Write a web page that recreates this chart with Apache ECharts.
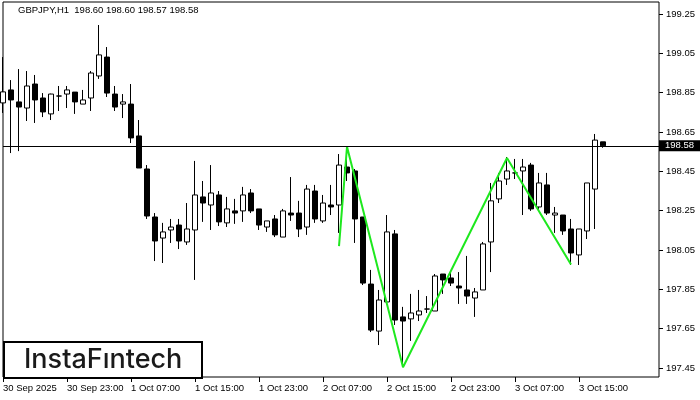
<!DOCTYPE html>
<html>
<head>
<meta charset="utf-8">
<script src="https://cdn.jsdelivr.net/npm/echarts@6/dist/echarts.min.js"></script>
<style>html,body{margin:0;padding:0;background:#fff}#c{width:700px;height:400px}</style>
</head>
<body>
<div id="c"></div>
<script>
// ---- data (GBPJPY, H1) ----
const symbolTitle = 'GBPJPY,H1  198.60 198.60 198.57 198.58';
const days = ['30 Sep', '1 Oct', '2 Oct', '3 Oct', '4 Oct'];
const firstLabel = '30 Sep 2025';
const slotCount = 83; // 76 bars + empty right margin
const opens = [198.798,198.864,198.803,198.772,198.894,198.823,198.742,198.833,198.843,198.853,
  198.792,198.823,198.935,199.031,198.843,198.792,198.792,198.630,198.462,198.218,
  198.111,198.152,198.177,198.091,198.152,198.320,198.279,198.330,198.188,198.249,
  198.249,198.340,198.259,198.167,198.208,198.116,198.238,198.238,198.167,198.350,
  198.198,198.279,198.279,198.472,198.452,198.218,197.877,197.638,197.786,198.132,
  197.710,197.700,197.720,197.750,197.740,197.928,197.908,197.867,197.847,197.806,
  197.847,198.091,198.310,198.411,198.442,198.452,198.482,198.269,198.381,198.228,
  198.228,198.157,198.025,198.147,198.360,198.600];
const closes = [198.854,198.813,198.777,198.884,198.813,198.752,198.843,198.833,198.864,198.803,
  198.813,198.950,199.042,198.848,198.777,198.803,198.620,198.467,198.223,198.096,
  198.142,198.167,198.096,198.157,198.330,198.289,198.340,198.193,198.259,198.238,
  198.330,198.249,198.177,198.198,198.127,198.249,198.228,198.157,198.360,198.208,
  198.289,198.269,198.482,198.442,198.208,197.882,197.643,197.796,198.142,197.694,
  197.689,197.730,197.740,197.750,197.918,197.898,197.882,197.857,197.816,197.837,
  198.081,198.300,198.401,198.452,198.442,198.472,198.259,198.391,198.238,198.238,
  198.147,198.035,198.157,198.391,198.609,198.580];
const highs = [199.031,198.914,198.970,198.960,198.940,198.848,198.845,198.884,198.884,198.853,
  198.864,198.960,199.194,199.082,198.884,198.843,198.894,198.711,198.482,198.238,
  198.188,198.208,198.208,198.289,198.503,198.401,198.482,198.350,198.320,198.310,
  198.371,198.360,198.259,198.198,198.228,198.259,198.421,198.300,198.381,198.381,
  198.330,198.381,198.538,198.523,198.462,198.218,197.949,197.847,198.228,198.152,
  197.761,197.827,197.847,197.816,197.928,197.928,197.938,197.938,198.020,197.857,
  198.091,198.391,198.442,198.523,198.513,198.513,198.493,198.442,198.442,198.269,
  198.228,198.208,198.157,198.391,198.640,198.600];
const lows = [198.747,198.543,198.553,198.706,198.696,198.726,198.711,198.757,198.772,198.742,
  198.792,198.757,198.920,198.828,198.757,198.721,198.594,198.467,198.208,197.994,
  197.984,198.086,198.055,198.076,197.898,198.193,198.152,198.172,198.167,198.183,
  198.193,198.238,198.152,198.142,198.116,198.116,198.198,198.116,198.127,198.188,
  198.188,198.228,198.137,198.401,198.086,197.872,197.633,197.567,197.786,197.669,
  197.455,197.588,197.689,197.730,197.740,197.827,197.867,197.776,197.776,197.710,
  197.847,197.938,198.289,198.381,198.411,198.228,198.249,198.249,198.228,198.137,
  198.127,197.974,197.974,198.106,198.157,198.570];
const patternIdx = [42, 43, 50, 63, 71];
const patternVal = [198.070, 198.575, 197.454, 198.518, 197.977];
const currentPrice = 198.58;
const yTicks = [197.45, 197.65, 197.85, 198.05, 198.25, 198.45, 198.65, 198.85, 199.05, 199.25];
const yMin = 197.4045, yMax = 199.311;
const labelStep = 8, lastLabelIdx = 72;
const logoText = 'InstaF\u0131ntech';

// ---- build ----
const categories = [];
(function () {
  let d = 0, h = 15;
  for (let i = 0; i < slotCount; i++) {
    categories.push(days[d] + ' ' + (h < 10 ? '0' : '') + h + ':00');
    h++; if (h === 24) { h = 0; d++; }
  }
})();
const candleData = opens.map((o, i) => [o, closes[i], lows[i], highs[i]]);
const patternData = patternIdx.map((x, i) => [x, patternVal[i]]);
const showIdx = (idx) => idx % labelStep === 0 && idx <= lastLabelIdx;

const chart = echarts.init(document.getElementById('c'), null, { renderer: 'canvas' });
chart.setOption({
  animation: false,
  backgroundColor: '#fff',
  textStyle: { fontFamily: 'Liberation Sans' },
  grid: { left: 2, right: 41, top: 2, bottom: 23, show: true, borderColor: '#000', borderWidth: 1, backgroundColor: '#fff' },
  xAxis: {
    type: 'category', data: categories, boundaryGap: false,
    axisLine: { show: false },
    axisTick: { show: true, interval: showIdx, length: 5, lineStyle: { color: '#000' } },
    axisLabel: {
      interval: showIdx, align: 'left', margin: 6, color: '#000', fontSize: 9.5,
      fontFamily: 'Liberation Sans',
      formatter: (v, idx) => idx === 0 ? firstLabel : v
    },
    splitLine: { show: false }
  },
  yAxis: {
    type: 'value', position: 'right', min: yMin, max: yMax, scale: true,
    axisLine: { show: false },
    splitLine: { show: false },
    axisTick: { show: true, length: 4, customValues: yTicks, lineStyle: { color: '#000' } },
    axisLabel: { customValues: yTicks, margin: 7, color: '#000', fontSize: 9.5, fontFamily: 'Liberation Sans',
      formatter: (v) => v.toFixed(2) }
  },
  series: [
    {
      type: 'candlestick', data: candleData, barWidth: 5, clip: true,
      itemStyle: { color: '#fff', color0: '#000', borderColor: '#000', borderColor0: '#000', borderColorDoji: '#000', borderWidth: 1 },
      emphasis: { disabled: true },
      markLine: {
        silent: true, symbol: ['none', 'none'], animation: false,
        lineStyle: { color: '#000', width: 1, type: 'solid' },
        label: { show: true, position: 'end', distance: 0, formatter: currentPrice.toFixed(2),
          color: '#fff', backgroundColor: '#000', fontSize: 9.5, fontFamily: 'Liberation Sans',
          padding: [1, 8, 0, 6], lineHeight: 10 },
        emphasis: { disabled: true },
        data: [{ yAxis: currentPrice }]
      },
      z: 2
    },
    {
      type: 'line', data: patternData, symbol: 'none', connectNulls: true,
      lineStyle: { color: '#1ee81e', width: 2 }, z: 3, emphasis: { disabled: true }
    }
  ],
  graphic: [
    { type: 'text', left: 18, top: 5, z: 10,
      style: { text: symbolTitle, fill: '#000', font: '9.5px "Liberation Sans"' } },
    { type: 'group', left: 3, top: 341, z: 20, children: [
      { type: 'rect', shape: { x: 0, y: 0, width: 198, height: 36 },
        style: { fill: '#fff', stroke: '#000', lineWidth: 2 } },
      { type: 'text', x: 20, y: 18,
        style: { text: logoText, fill: '#1a1a1a', font: '500 27px Inter', textVerticalAlign: 'middle', verticalAlign: 'middle' } }
    ] }
  ]
});
</script>
</body>
</html>
